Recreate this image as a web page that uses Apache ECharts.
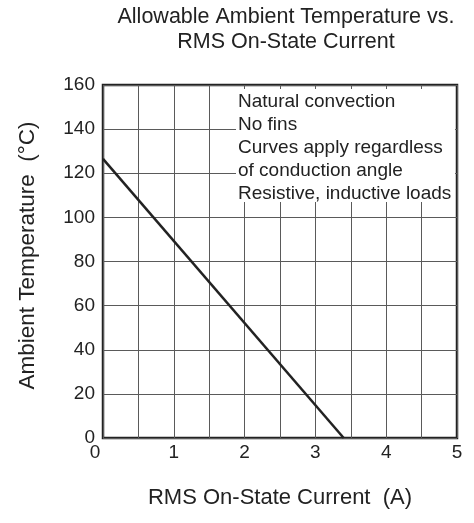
<!DOCTYPE html>
<html><head><meta charset="utf-8">
<script src="https://cdn.jsdelivr.net/npm/echarts@6/dist/echarts.min.js"></script>
<style>html,body{margin:0;padding:0;background:#fff}#c{width:474px;height:523px}</style>
</head><body><div id="c"></div>
<script>
const titleText = 'Allowable Ambient Temperature vs.\nRMS On-State Current';
const xName = 'RMS On-State Current  (A)';
const yName = 'Ambient Temperature  (°C)';
const currentA = [0, 3.4];
const tempC = [126.5, 0];
const noteLines = ['Natural convection', 'No fins', 'Curves apply regardless', 'of conduction angle', 'Resistive, inductive loads'];

const font = 'Liberation Sans, Arial, sans-serif';
const chart = echarts.init(document.getElementById('c'), null, {renderer: 'canvas'});
chart.setOption({
  animation: false,
  backgroundColor: '#fff',
  title: {text: titleText, left: 281, top: 0, textAlign: 'center',
    textStyle: {fontFamily: font, fontSize: 21.5, fontWeight: 'normal', color: '#222', lineHeight: 25}},
  grid: {left: 103, top: 85, right: 17, bottom: 85, show: true, borderColor: '#222', borderWidth: 2.5, backgroundColor: 'transparent'},
  xAxis: {type: 'value', min: 0, max: 5, interval: 0.5,
    name: xName, nameLocation: 'middle', nameGap: 49,
    nameTextStyle: {fontFamily: font, fontSize: 22, color: '#222'},
    axisLine: {show: false}, axisTick: {show: false},
    axisLabel: {fontFamily: font, fontSize: 19, color: '#222', margin: 5,
      formatter: v => v === 0 ? '{z|0}' : (Number.isInteger(v) ? String(v) : ''),
      rich: {z: {fontFamily: font, fontSize: 19, color: '#222', padding: [0, 16, 0, 0]}}},
    splitLine: {show: true, lineStyle: {color: '#5a5a5a', width: 1}}},
  yAxis: {type: 'value', min: 0, max: 160, interval: 20,
    name: yName, nameLocation: 'middle', nameGap: 64,
    nameTextStyle: {fontFamily: font, fontSize: 22.5, color: '#222', padding: [0, 0, 0, 12]},
    axisLine: {show: false}, axisTick: {show: false},
    axisLabel: {fontFamily: font, fontSize: 19, color: '#222', margin: 8},
    splitLine: {show: true, lineStyle: {color: '#5a5a5a', width: 1}}},
  series: [{type: 'line', data: currentA.map((x, i) => [x, tempC[i]]), symbol: 'none',
    lineStyle: {color: '#222', width: 2.5}}],
  graphic: [
    {type: 'rect', shape: {x: 236, y: 89, width: 219, height: 113}, style: {fill: '#fff'}, z: 10},
    {type: 'text', left: 238, top: 90, z: 11,
      style: {text: noteLines.join('\n'), font: '19px ' + font, fill: '#222', lineHeight: 23}}
  ]
});
</script></body></html>
